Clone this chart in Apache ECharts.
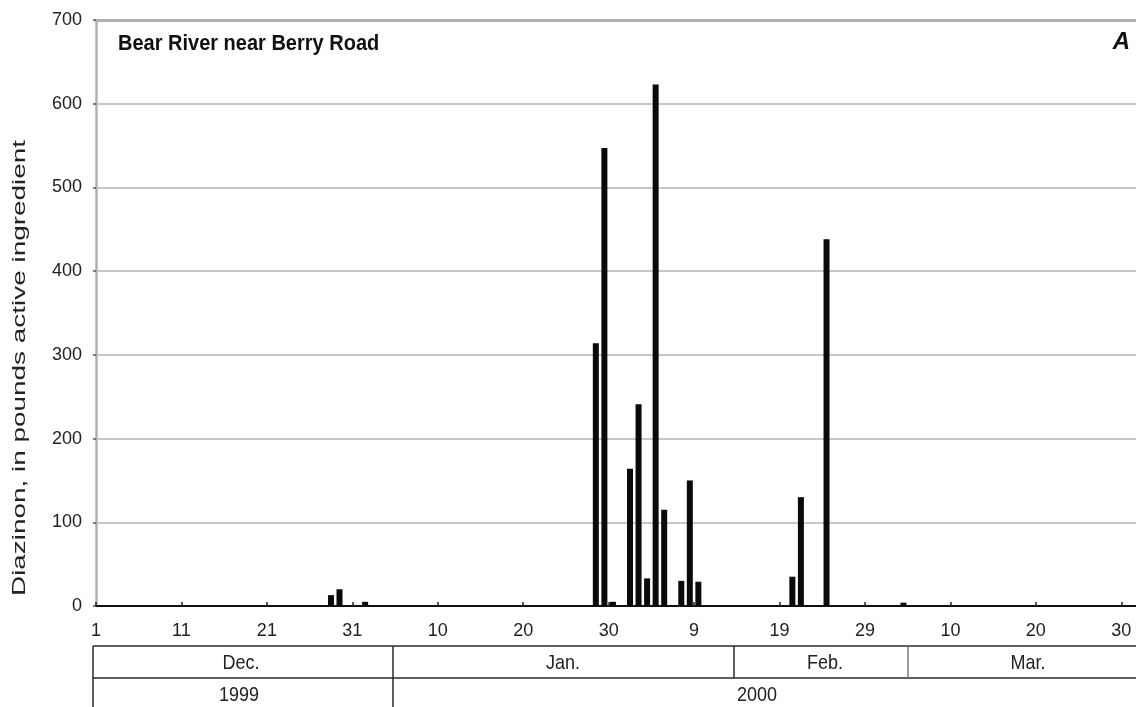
<!DOCTYPE html>
<html>
<head>
<meta charset="utf-8">
<title>Bear River near Berry Road – Diazinon</title>
<script src="https://cdn.jsdelivr.net/npm/echarts@6/dist/echarts.min.js"></script>
<style>
  html, body { margin: 0; padding: 0; background: #ffffff; }
  #chart { width: 1136px; height: 707px; }
</style>
</head>
<body>
<div id="chart"></div>
<script>
// Daily diazinon load (pounds active ingredient), Bear River near Berry Road
const sampleDates = [
  '1999-12-28', '1999-12-29', '2000-01-01',
  '2000-01-28', '2000-01-29', '2000-01-30',
  '2000-02-01', '2000-02-02', '2000-02-03', '2000-02-04', '2000-02-05',
  '2000-02-07', '2000-02-08', '2000-02-09',
  '2000-02-20', '2000-02-21', '2000-02-24',
  '2000-03-04'
];
const diazinonLbs = [
  13, 20, 5,
  314, 547, 5,
  164, 241, 33, 623, 115,
  30, 150, 29,
  35, 130, 438,
  4
];

// Day-of-month labels every 10 days starting Dec 1, 1999
const xTickLabels = ['1', '11', '21', '31', '10', '20', '30', '9', '19', '29', '10', '20', '30'];
const yTickValues = [0, 100, 200, 300, 400, 500, 600, 700];
const monthLabels = ['Dec.', 'Jan.', 'Feb.', 'Mar.'];
const yearLabels = ['1999', '2000'];

const START = Date.UTC(1999, 11, 1);
const DAY = 86400000;
function dayIndex(s) {
  const [y, m, d] = s.split('-').map(Number);
  return (Date.UTC(y, m - 1, d) - START) / DAY + 0.5; // bar sits mid-day
}
const barData = sampleDates.map((d, i) => [dayIndex(d), diazinonLbs[i]]);

const FONT = '"Liberation Sans", Arial, sans-serif';
const GRID_LEFT = 96, GRID_TOP = 20, GRID_BOTTOM = 101;
const X_MAX = 121.72;

// Month / year table under the axis
const tTop = 646, tMid = 678, tBot = 707, tLeft = 93, tRight = 1136;
const lineStyle = { stroke: '#2a2a2a', lineWidth: 1.5 };
function hLine(y) { return { type: 'line', shape: { x1: tLeft, y1: y, x2: tRight, y2: y }, style: lineStyle, silent: true }; }
function vLine(x, y1, y2, stroke) { return { type: 'line', shape: { x1: x, y1: y1, x2: x, y2: y2 }, style: { stroke: stroke || '#2a2a2a', lineWidth: 1.5 }, silent: true }; }
function label(text, x, y) {
  return { type: 'text', x: x, y: y, scaleY: 1.1, silent: true,
    style: { text: text, font: '18px ' + FONT, fill: '#222', align: 'center', verticalAlign: 'middle', textAlign: 'center', textVerticalAlign: 'middle' } };
}
const monthCenters = [241, 563, 825, 1028];
const yearCenters = [239, 757];

const graphics = [
  hLine(tTop), hLine(tMid),
  vLine(tLeft, tTop, tBot), vLine(393, tTop, tBot), vLine(734, tTop, tMid), vLine(908, tTop, tMid, '#777')
];
monthLabels.forEach((m, i) => graphics.push(label(m, monthCenters[i], 664)));
yearLabels.forEach((y, i) => graphics.push(label(y, yearCenters[i], 696)));

// Panel title and panel letter
graphics.push({ type: 'text', x: 118, y: 44, scaleY: 1.08, silent: true,
  style: { text: 'Bear River near Berry Road', font: 'bold 20px ' + FONT, fill: '#111', align: 'left', verticalAlign: 'middle', textAlign: 'left', textVerticalAlign: 'middle' } });
graphics.push({ type: 'text', x: 1130, y: 42, silent: true,
  style: { text: 'A', font: 'italic bold 24px ' + FONT, fill: '#111', align: 'right', verticalAlign: 'middle', textAlign: 'right', textVerticalAlign: 'middle' } });

// Rotated y-axis title
graphics.push({ type: 'text', x: 20, y: 368, rotation: Math.PI / 2, scaleX: 1.55, silent: true,
  style: { text: 'Diazinon, in pounds active ingredient', font: '18px ' + FONT, fill: '#222', align: 'center', verticalAlign: 'middle', textAlign: 'center', textVerticalAlign: 'middle' } });

const chart = echarts.init(document.getElementById('chart'), null, { renderer: 'canvas' });
chart.setOption({
  animation: false,
  backgroundColor: '#ffffff',
  grid: { left: GRID_LEFT, right: 0, top: GRID_TOP, bottom: GRID_BOTTOM, containLabel: false },
  xAxis: [
    {
      type: 'value', min: 0, max: X_MAX, interval: 10,
      axisLine: { show: true, lineStyle: { color: '#111', width: 2 } },
      axisTick: { show: true, inside: true, length: 4, lineStyle: { color: '#222', width: 1.5 } },
      axisLabel: {
        show: true, margin: 16, color: '#222', fontFamily: FONT, fontSize: 18,
        showMaxLabel: false,
        formatter: function (v) {
          const i = Math.round(v / 10);
          return Math.abs(v - i * 10) < 1e-6 && xTickLabels[i] !== undefined ? xTickLabels[i] : '';
        }
      },
      splitLine: { show: false }
    },
    {
      type: 'value', position: 'top', min: 0, max: X_MAX,
      axisLine: { show: true, onZero: false, lineStyle: { color: '#b0b0b0', width: 3 } },
      axisTick: { show: false }, axisLabel: { show: false }, splitLine: { show: false }
    }
  ],
  yAxis: {
    type: 'value', min: yTickValues[0], max: yTickValues[yTickValues.length - 1], interval: 100,
    axisLine: { show: true, lineStyle: { color: '#b0b0b0', width: 2.5 } },
    axisTick: { show: true, length: 3, lineStyle: { color: '#555', width: 1.5 } },
    axisLabel: { color: '#222', fontFamily: FONT, fontSize: 18, margin: 14 },
    splitLine: { show: true, lineStyle: { color: '#b5b5b5', width: 1.5 } }
  },
  series: [{
    type: 'bar', xAxisIndex: 0, data: barData, barWidth: 6,
    itemStyle: { color: '#0a0a0a' }, silent: true
  }],
  graphic: { elements: graphics }
});
</script>
</body>
</html>
